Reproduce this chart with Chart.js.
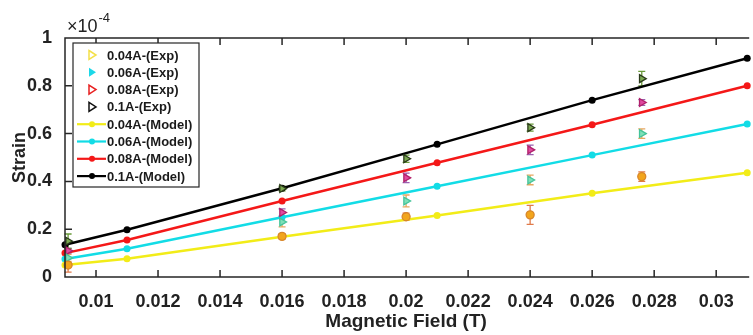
<!DOCTYPE html>
<html>
<head>
<meta charset="utf-8">
<script src="https://cdn.jsdelivr.net/npm/chart.js@4.4.1/dist/chart.umd.min.js"></script>
<style>
    html, body { margin: 0; padding: 0; background: #fff; }
    #wrap { width: 753px; height: 335px; position: relative; }
</style>
</head>
<body>
<div id="wrap"><canvas id="strainChart"></canvas></div>
<script>
// Data (strain in units of 1e-4)
const modelField = [0.009, 0.011, 0.016, 0.021, 0.026, 0.031];
const model004 = [0.05, 0.076, 0.168, 0.257, 0.35, 0.436];
const model006 = [0.075, 0.118, 0.25, 0.38, 0.51, 0.64];
const model008 = [0.10, 0.155, 0.318, 0.478, 0.637, 0.80];
const model01 = [0.135, 0.198, 0.371, 0.555, 0.74, 0.915];

const expField = [0.0091, 0.016, 0.02, 0.024, 0.0276];
const exp004 = [0.05, 0.17, 0.252, 0.26, 0.42];
const exp006 = [0.08, 0.23, 0.318, 0.406, 0.60];
const exp008 = [0.11, 0.27, 0.415, 0.532, 0.73];
const exp01 = [0.15, 0.37, 0.495, 0.625, 0.83];
const err004 = [0.03, 0.01, 0.015, 0.04, 0.02];
const err006 = [0.015, 0.02, 0.025, 0.02, 0.02];
const err008 = [0.01, 0.015, 0.02, 0.02, 0.012];
const err01 = [0.03, 0.01, 0.015, 0.015, 0.03];

const xTicks = [0.01, 0.012, 0.014, 0.016, 0.018, 0.02, 0.022, 0.024, 0.026, 0.028, 0.03];
const yTicks = [0, 0.2, 0.4, 0.6, 0.8, 1];

const FONT = "'Liberation Sans', Arial, sans-serif";
const AXIS = '#262626';

function pts(xs, ys) {
    return xs.map((x, i) => ({ x: x, y: ys[i] }));
}

function expSet(label, ys, errs, fill, border, barColor, style, legend) {
    return {
        label: label,
        data: pts(expField, ys),
        errors: errs,
        barColor: barColor,
        legend: legend,
        showLine: false,
        pointStyle: style,
        rotation: style === 'triangle' ? 90 : 0,
        pointRadius: style === 'triangle' ? 4.5 : 4,
        pointBorderWidth: 1.3,
        backgroundColor: fill,
        borderColor: border,
        clip: false
    };
}

function modelSet(label, ys, color) {
    return {
        label: label,
        data: pts(modelField, ys),
        legend: { type: 'line', color: color },
        showLine: true,
        borderColor: color,
        backgroundColor: color,
        borderWidth: 2.5,
        pointRadius: 3.5,
        pointBorderWidth: 0,
        pointStyle: 'circle',
        clip: false
    };
}

// error bars under the markers
const errorBars = {
    id: 'errorBars',
    beforeDatasetsDraw(chart) {
        const ctx = chart.ctx;
        const xs = chart.scales.x, ys = chart.scales.y;
        chart.data.datasets.forEach(ds => {
            if (!ds.errors) return;
            ctx.save();
            ctx.strokeStyle = ds.barColor;
            ctx.lineWidth = 1.3;
            ds.data.forEach((p, i) => {
                const px = xs.getPixelForValue(p.x);
                const top = ys.getPixelForValue(p.y + ds.errors[i]);
                const bot = ys.getPixelForValue(p.y - ds.errors[i]);
                ctx.beginPath();
                ctx.moveTo(px, top); ctx.lineTo(px, bot);
                ctx.moveTo(px - 3.5, top); ctx.lineTo(px + 3.5, top);
                ctx.moveTo(px - 3.5, bot); ctx.lineTo(px + 3.5, bot);
                ctx.stroke();
            });
            ctx.restore();
        });
    }
};

// box frame, inward ticks, exponent label, legend inside the plot
const frame = {
    id: 'frame',
    afterDraw(chart) {
        const ctx = chart.ctx;
        const a = chart.chartArea;
        const xs = chart.scales.x, ys = chart.scales.y;
        ctx.save();
        ctx.strokeStyle = AXIS;
        ctx.lineWidth = 1.5;
        ctx.beginPath();
        ctx.moveTo(a.right + 2, a.top); ctx.lineTo(a.left, a.top);
        ctx.lineTo(a.left, a.bottom); ctx.lineTo(a.right + 2, a.bottom);
        xTicks.forEach(v => {
            const px = xs.getPixelForValue(v);
            ctx.moveTo(px, a.bottom); ctx.lineTo(px, a.bottom - 7);
            ctx.moveTo(px, a.top); ctx.lineTo(px, a.top + 7);
        });
        yTicks.forEach(v => {
            const py = ys.getPixelForValue(v);
            ctx.moveTo(a.left, py); ctx.lineTo(a.left + 7, py);
        });
        ctx.stroke();

        // x10^-4
        ctx.fillStyle = '#222';
        ctx.textBaseline = 'alphabetic';
        ctx.font = '18px ' + FONT;
        let x = a.left + 2;
        const base = a.top - 6;
        ctx.fillText('\u00d710', x, base);
        x += ctx.measureText('\u00d710').width + 1;
        ctx.font = '13px ' + FONT;
        ctx.fillText('-4', x, base - 10);

        // legend
        const lx = a.left + 8, ly = a.top + 5, lw = 126, lh = 144;
        ctx.fillStyle = '#fff';
        ctx.fillRect(lx, ly, lw, lh);
        ctx.lineWidth = 1.2;
        ctx.strokeStyle = AXIS;
        ctx.strokeRect(lx, ly, lw, lh);
        ctx.font = 'bold 13px ' + FONT;
        ctx.textBaseline = 'middle';
        chart.data.datasets.forEach((ds, i) => {
            const cy = ly + 12 + i * 17.3;
            const lg = ds.legend;
            if (lg.type === 'line') {
                ctx.strokeStyle = lg.color;
                ctx.lineWidth = 2.2;
                ctx.beginPath();
                ctx.moveTo(lx + 4, cy); ctx.lineTo(lx + 33, cy);
                ctx.stroke();
                ctx.fillStyle = lg.color;
                ctx.beginPath();
                ctx.arc(lx + 19, cy, 3, 0, Math.PI * 2);
                ctx.fill();
            } else {
                ctx.beginPath();
                ctx.moveTo(lx + 16, cy - 4.5);
                ctx.lineTo(lx + 23, cy);
                ctx.lineTo(lx + 16, cy + 4.5);
                ctx.closePath();
                if (lg.filled) {
                    ctx.fillStyle = lg.color;
                    ctx.fill();
                } else {
                    ctx.strokeStyle = lg.color;
                    ctx.lineWidth = 1.5;
                    ctx.stroke();
                }
            }
            ctx.fillStyle = '#1a1a1a';
            ctx.fillText(ds.label, lx + 34, cy + 1);
        });
        ctx.restore();
    }
};

function createStrainChart() {
    const ctx = document.getElementById('strainChart').getContext('2d');
    new Chart(ctx, {
        type: 'scatter',
        data: {
            datasets: [
                expSet('0.04A-(Exp)', exp004, err004, '#f2a51c', '#d8862a', '#e07a4a', 'circle', { type: 'tri', color: '#f4e04a', filled: false }),
                expSet('0.06A-(Exp)', exp006, err006, '#7fe0b8', '#44c49a', '#e6a860', 'triangle', { type: 'tri', color: '#1cd8e8', filled: true }),
                expSet('0.08A-(Exp)', exp008, err008, '#e04aa0', '#b0206a', '#9a60b0', 'triangle', { type: 'tri', color: '#e82020', filled: false }),
                expSet('0.1A-(Exp)', exp01, err01, '#7aa850', '#2a3a1a', '#6a9a3a', 'triangle', { type: 'tri', color: '#111', filled: false }),
                modelSet('0.04A-(Model)', model004, '#f2ec18'),
                modelSet('0.06A-(Model)', model006, '#12dce6'),
                modelSet('0.08A-(Model)', model008, '#f41818'),
                modelSet('0.1A-(Model)', model01, '#000000')
            ]
        },
        options: {
            responsive: true,
            maintainAspectRatio: false,
            animation: false,
            layout: {
                padding: { left: 9, right: 0, top: 38, bottom: 0 }
            },
            scales: {
                x: {
                    type: 'linear',
                    min: 0.009,
                    max: 0.031,
                    afterBuildTicks: function (scale) {
                        scale.ticks = xTicks.map(v => ({ value: v }));
                    },
                    afterFit: function (scale) {
                        scale.height = 58;
                    },
                    grid: { display: false },
                    border: { display: false },
                    ticks: {
                        padding: 6,
                        maxRotation: 0,
                        autoSkip: false,
                        color: '#222',
                        font: { family: FONT, size: 18, weight: 'bold' },
                        callback: function (value) {
                            return String(+value.toFixed(3));
                        }
                    },
                    title: {
                        display: true,
                        text: 'Magnetic Field (T)',
                        color: '#222',
                        padding: { top: 0, bottom: 2 },
                        font: { family: FONT, size: 19, weight: 'bold' }
                    }
                },
                y: {
                    type: 'linear',
                    min: 0,
                    max: 1,
                    afterBuildTicks: function (scale) {
                        scale.ticks = yTicks.map(v => ({ value: v }));
                    },
                    afterFit: function (scale) {
                        scale.width = 56;
                    },
                    grid: { display: false },
                    border: { display: false },
                    ticks: {
                        padding: 5,
                        color: '#222',
                        font: { family: FONT, size: 18, weight: 'bold' },
                        callback: function (value) {
                            return String(+value.toFixed(1));
                        }
                    },
                    title: {
                        display: true,
                        text: 'Strain',
                        color: '#222',
                        padding: { top: 0, bottom: 2 },
                        font: { family: FONT, size: 18, weight: 'bold' }
                    }
                }
            },
            plugins: {
                legend: { display: false },
                tooltip: { enabled: false }
            }
        },
        plugins: [errorBars, frame]
    });
}

document.addEventListener('DOMContentLoaded', function () {
    createStrainChart();
});
</script>
</body>
</html>
